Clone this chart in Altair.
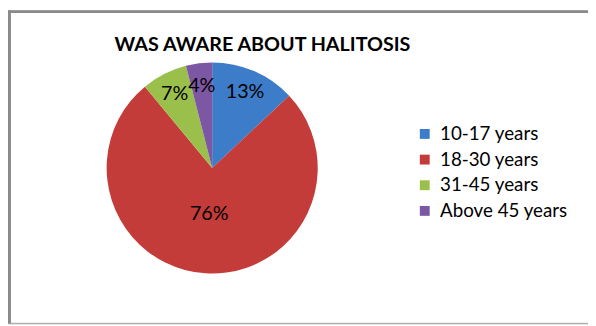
import altair as alt
import pandas as pd

categories = ["10-17 years", "18-30 years", "31-45 years", "Above 45 years"]
values = [13, 76, 7, 4]
labels = ["13%", "76%", "7%", "4%"]
colors = ["#3C7CC8", "#C43C3A", "#9BBF4B", "#7C57A3"]
title_text = "WAS AWARE ABOUT HALITOSIS"

df = pd.DataFrame({"category": categories, "value": values, "label": labels})

FONT = "Lato"
CX, CY, R = 207, 160, 107

base = alt.Chart(df)

pie = base.mark_arc(radius=R, stroke=None).encode(
    theta=alt.Theta("value:Q", stack=True),
    color=alt.Color(
        "category:N",
        sort=categories,
        scale=alt.Scale(domain=categories, range=colors),
        legend=alt.Legend(
            title=None,
            orient="none",
            legendX=413,
            legendY=116,
            symbolType="square",
            symbolSize=100,
            symbolStrokeWidth=0,
            labelFont=FONT,
            labelFontSize=19,
            labelColor="#000000",
            rowPadding=6,
            labelOffset=6,
            padding=0,
        ),
    ),
    order=alt.Order("category:N"),
    x=alt.value(CX),
    y=alt.value(CY),
)


def pct_layer(radius, big):
    test = alt.datum.value > 50 if big else alt.datum.value < 50
    return base.mark_text(radius=radius, font=FONT, fontSize=20, color="#000000").encode(
        theta=alt.Theta("value:Q", stack=True),
        detail="category:N",
        order=alt.Order("category:N"),
        text=alt.condition(test, "label:N", alt.value("")),
        x=alt.value(CX),
        y=alt.value(CY),
    )


small = pct_layer(84, False)
big = pct_layer(47, True)

one = alt.Data(values=[{"t": title_text}])
title = alt.Chart(one).mark_text(
    font=FONT, fontSize=20, fontWeight="bold", color="#000000", baseline="alphabetic"
).encode(text="t:N", x=alt.value(258), y=alt.value(41))

frame_left = alt.Chart(one).mark_rule(color="#8A8A8A", strokeWidth=3).encode(
    x=alt.value(1.5), y=alt.value(0), y2=alt.value(318)
)
frame_top = alt.Chart(one).mark_rule(color="#8A8A8A", strokeWidth=3).encode(
    y=alt.value(1.5), x=alt.value(0), x2=alt.value(588)
)
frame_bottom = alt.Chart(one).mark_rule(color="#A0A0A0", strokeWidth=1).encode(
    y=alt.value(317.5), x=alt.value(0), x2=alt.value(588)
)

chart = alt.layer(pie, small, big, title, frame_left, frame_top, frame_bottom).properties(
    width=588, height=318, padding=0, autosize=alt.AutoSizeParams(type="none")
).configure_view(stroke=None).configure(background="#FFFFFF")

chart.save("out.html", embed_options={"renderer": "svg", "actions": False})
